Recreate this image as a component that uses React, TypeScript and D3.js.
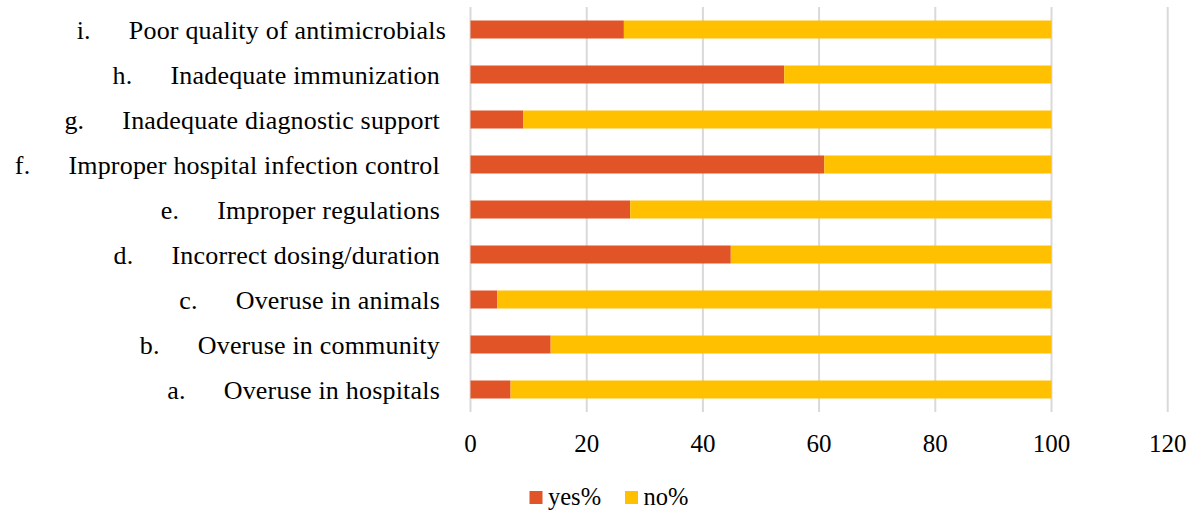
import React from "react";
import * as d3 from "d3";

const letters = ["a.", "b.", "c.", "d.", "e.", "f.", "g.", "h.", "i."];
const categories = [
  "Overuse in hospitals",
  "Overuse in community",
  "Overuse in animals",
  "Incorrect dosing/duration",
  "Improper regulations",
  "Improper hospital infection control",
  "Inadequate diagnostic support",
  "Inadequate immunization",
  "Poor quality of antimicrobials",
];
const yesPct = [6.9, 13.8, 4.6, 44.8, 27.5, 60.9, 9.1, 54.0, 26.4];
const noPct = yesPct.map((v) => 100 - v);
const xTicks = [0, 20, 40, 60, 80, 100, 120];
const seriesNames = ["yes%", "no%"];
const colors = ["#E05427", "#FFC000"];

const W = 1197;
const H = 512;
const FONT = "'Liberation Serif', 'Times New Roman', serif";

export default function App() {
  const x = d3.scaleLinear().domain([0, 120]).range([470.5, 1167.7]);
  const order = categories.map((_, i) => i).reverse();
  const band = d3.scaleBand<number>().domain(order).range([7, 412]);

  const stack = d3
    .stack<number>()
    .keys(["yes", "no"])
    .value((i, key) => (key === "yes" ? yesPct[i] : noPct[i]));
  const series = stack(categories.map((_, i) => i));

  const legendX = [529.5, 625];

  return (
    <svg
      width={W}
      height={H}
      style={{ position: "absolute", left: 0, top: 0, background: "#fff", fontFamily: FONT }}
    >
      {xTicks.map((t) => (
        <line
          key={"g" + t}
          x1={x(t)}
          x2={x(t)}
          y1={7}
          y2={412}
          stroke="#d9d9d9"
          strokeWidth={2}
        />
      ))}
      {series.map((s, si) => (
        <g key={"s" + si} fill={colors[si]}>
          {s.map((d, j) => {
            const i = d.data as number;
            return (
              <rect
                key={j}
                x={x(d[0])}
                y={(band(i) as number) + band.bandwidth() / 2 - 9}
                width={x(d[1]) - x(d[0])}
                height={18}
              />
            );
          })}
        </g>
      ))}
      {categories.map((c, i) => (
        <text
          key={"c" + i}
          x={i === 8 ? 446 : 440}
          y={(band(i) as number) + band.bandwidth() / 2}
          dy="0.36em"
          textAnchor="end"
          fontSize={26}
          letterSpacing={0.2}
          fill="#000"
        >
          <tspan>{letters[i]}</tspan>
          <tspan dx={38}>{c}</tspan>
        </text>
      ))}
      {xTicks.map((t) => (
        <text
          key={"t" + t}
          x={x(t)}
          y={451.5}
          textAnchor="middle"
          fontSize={25}
          fill="#000"
        >
          {t}
        </text>
      ))}
      {seriesNames.map((n, k) => (
        <g key={"l" + k}>
          <rect x={legendX[k]} y={491} width={13} height={13} fill={colors[k]} />
          <text x={legendX[k] + 18.5} y={505} fontSize={24.5} fill="#000">
            {n}
          </text>
        </g>
      ))}
    </svg>
  );
}
